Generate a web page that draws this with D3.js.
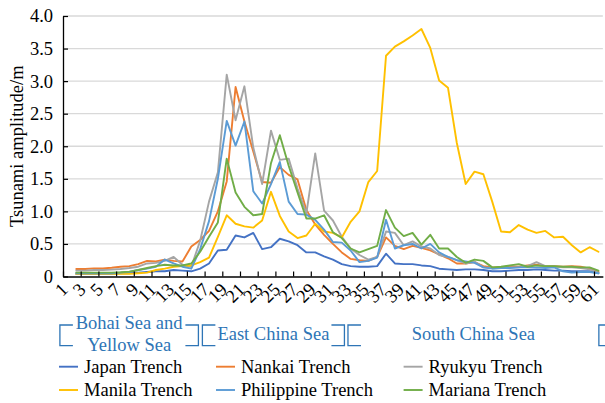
<!DOCTYPE html>
<html>
<head>
<meta charset="utf-8">
<script src="https://cdn.jsdelivr.net/npm/d3@7"></script>
<style>
  html, body { margin: 0; padding: 0; background: #ffffff; }
  svg { display: block; }
  text { font-family: "Liberation Serif", "Times New Roman", serif; }
</style>
</head>
<body>
<svg id="chart" width="605" height="403"></svg>
<script>
// Station numbers along the coast (first station has no record)
const categories = d3.range(1, 62).map(String);

// Maximum tsunami amplitude (m) at each station, one array per source trench
const japanTrench = [null,
  0.04, 0.04, 0.04, 0.04, 0.04, 0.05, 0.05, 0.06, 0.07, 0.08,
  0.08, 0.10, 0.09, 0.08, 0.12, 0.20, 0.40, 0.41, 0.63, 0.60,
  0.67, 0.42, 0.45, 0.58, 0.54, 0.48, 0.37, 0.37, 0.31, 0.26,
  0.19, 0.16, 0.15, 0.15, 0.16, 0.35, 0.20, 0.19, 0.19, 0.17,
  0.16, 0.12, 0.11, 0.10, 0.11, 0.11, 0.10, 0.08, 0.08, 0.09,
  0.10, 0.10, 0.11, 0.10, 0.09, 0.09, 0.08, 0.08, 0.08, 0.05];
const nankaiTrench = [null,
  0.115, 0.115, 0.125, 0.125, 0.135, 0.15, 0.16, 0.19, 0.24, 0.23,
  0.26, 0.24, 0.23, 0.46, 0.56, 0.70, 1.00, 1.46, 2.91, 2.38,
  1.92, 1.45, 1.44, 1.68, 1.56, 1.49, 1.02, 0.80, 0.64, 0.50,
  0.37, 0.27, 0.25, 0.24, 0.30, 0.60, 0.47, 0.42, 0.47, 0.44,
  0.40, 0.34, 0.28, 0.20, 0.20, 0.22, 0.16, 0.14, 0.14, 0.16,
  0.15, 0.17, 0.18, 0.16, 0.16, 0.15, 0.16, 0.15, 0.12, 0.07];
const ryukyuTrench = [null,
  0.09, 0.09, 0.10, 0.10, 0.105, 0.115, 0.13, 0.15, 0.20, 0.21,
  0.24, 0.30, 0.18, 0.15, 0.55, 1.15, 1.60, 3.10, 2.40, 2.92,
  1.98, 1.42, 2.24, 1.79, 1.81, 1.35, 0.97, 1.89, 1.01, 0.86,
  0.61, 0.43, 0.33, 0.26, 0.30, 0.69, 0.67, 0.48, 0.54, 0.46,
  0.43, 0.33, 0.30, 0.25, 0.20, 0.23, 0.14, 0.13, 0.14, 0.14,
  0.14, 0.16, 0.22, 0.16, 0.15, 0.14, 0.14, 0.13, 0.11, 0.06];
const manilaTrench = [null,
  0.04, 0.04, 0.04, 0.04, 0.04, 0.04, 0.04, 0.05, 0.06, 0.10,
  0.12, 0.15, 0.16, 0.17, 0.22, 0.29, 0.61, 0.94, 0.81, 0.77,
  0.75, 0.86, 1.30, 0.93, 0.69, 0.59, 0.63, 0.81, 0.69, 0.67,
  0.60, 0.84, 1.00, 1.45, 1.62, 3.39, 3.53, 3.61, 3.70, 3.80,
  3.51, 3.01, 2.90, 2.05, 1.42, 1.61, 1.57, 1.15, 0.69, 0.68,
  0.79, 0.72, 0.67, 0.70, 0.60, 0.61, 0.48, 0.37, 0.45, 0.38];
const philippineTrench = [null,
  0.05, 0.05, 0.05, 0.05, 0.05, 0.06, 0.07, 0.10, 0.12, 0.15,
  0.26, 0.20, 0.15, 0.12, 0.42, 0.85, 1.50, 2.39, 2.01, 2.38,
  1.31, 1.12, 1.42, 1.76, 1.15, 0.96, 0.95, 0.87, 0.72, 0.53,
  0.52, 0.40, 0.22, 0.24, 0.29, 0.87, 0.43, 0.48, 0.50, 0.43,
  0.50, 0.37, 0.30, 0.25, 0.23, 0.21, 0.14, 0.12, 0.13, 0.13,
  0.14, 0.14, 0.14, 0.13, 0.14, 0.08, 0.06, 0.07, 0.07, 0.05];
const marianaTrench = [null,
  0.06, 0.06, 0.06, 0.06, 0.06, 0.065, 0.075, 0.10, 0.13, 0.16,
  0.18, 0.17, 0.17, 0.20, 0.38, 0.61, 0.83, 1.81, 1.29, 1.07,
  0.94, 0.96, 1.74, 2.17, 1.70, 1.29, 0.89, 0.89, 0.94, 0.68,
  0.59, 0.43, 0.37, 0.42, 0.47, 1.02, 0.75, 0.62, 0.67, 0.49,
  0.64, 0.43, 0.43, 0.30, 0.21, 0.26, 0.24, 0.14, 0.15, 0.17,
  0.19, 0.15, 0.17, 0.16, 0.16, 0.15, 0.15, 0.14, 0.14, 0.09];

const seriesNames = ["Japan Trench", "Nankai Trench", "Ryukyu Trench",
                     "Manila Trench", "Philippine Trench", "Mariana Trench"];
const seriesValues = [japanTrench, nankaiTrench, ryukyuTrench,
                      manilaTrench, philippineTrench, marianaTrench];
const seriesColors = ["#4472C4", "#ED7D31", "#A5A5A5", "#FFC000", "#5B9BD5", "#70AD47"];

const yTicks = [0, 0.5, 1, 1.5, 2, 2.5, 3, 3.5, 4];
const yTickLabels = ["0", "0.5", "1.0", "1.5", "2.0", "2.5", "3.0", "3.5", "4.0"];
const xLabelStep = 2;

// Coastal sea regions spanned by the stations (in station units)
const regionNames = [["Bohai Sea and", "Yellow Sea"], ["East China Sea"], ["South China Sea"], []];
const regionFrom = [0.15, 16.25, 32.7, 61.05];
const regionTo = [15.8, 32.3, 61.05, 63];
const regionClosed = [true, true, false, false];

const axisTitle = "Tsunami amplitude/m";

// ---------------------------------------------------------------
(function draw() {
  const svg = d3.select("#chart");
  const FONT = 18.5;
  const plotLeft = 63, bandW = 8.85;
  const plotRight = plotLeft + bandW * categories.length;
  const plotTop = 16, plotBottom = 276.5;

  const x = d3.scaleBand().domain(categories).range([plotLeft, plotRight]).padding(0);
  const y = d3.scaleLinear().domain([0, 4]).range([plotBottom, plotTop]);
  // station number (fractional) -> pixel, for annotations along the axis
  const stationPos = d3.scaleLinear().domain([0.5, categories.length + 0.5]).range([plotLeft, plotRight]);
  const cx = c => x(c) + x.bandwidth() / 2;

  // horizontal gridlines
  svg.append("g")
    .selectAll("line")
    .data(yTicks.filter(d => d > 0))
    .join("line")
    .attr("x1", plotLeft).attr("x2", plotRight)
    .attr("y1", d => y(d)).attr("y2", d => y(d))
    .attr("stroke", "#d9d9d9").attr("stroke-width", 1.3);

  // series lines
  const line = d3.line()
    .defined(d => d.v !== null)
    .x(d => cx(d.c))
    .y(d => y(d.v));

  svg.append("g")
    .selectAll("path")
    .data(seriesValues.map((vals, i) => ({ i, pts: categories.map((c, j) => ({ c, v: vals[j] })) })))
    .join("path")
    .attr("d", d => line(d.pts))
    .attr("fill", "none")
    .attr("stroke", d => seriesColors[d.i])
    .attr("stroke-width", 1.9)
    .attr("stroke-linejoin", "round")
    .attr("stroke-linecap", "round");

  // y axis
  const yAxis = d3.axisLeft(y)
    .tickValues(yTicks)
    .tickFormat((d, i) => yTickLabels[i])
    .tickSizeInner(-5).tickSizeOuter(0)
    .tickPadding(10);
  const gy = svg.append("g").attr("transform", `translate(${plotLeft},0)`).call(yAxis);
  gy.attr("font-family", null);
  gy.select(".domain").attr("stroke", "#000").attr("stroke-width", 1.3);
  gy.selectAll(".tick line").attr("stroke", "#000").attr("stroke-width", 1.2);
  gy.selectAll(".tick text").attr("font-size", FONT).attr("fill", "#000");

  // x axis: ticks between every second station, labels on odd stations
  const boundaryScale = d3.scaleLinear().domain([0, categories.length]).range([plotLeft, plotRight]);
  const xAxis = d3.axisBottom(boundaryScale)
    .tickValues(d3.range(0, categories.length + 1, xLabelStep))
    .tickFormat("")
    .tickSizeInner(-5).tickSizeOuter(0);
  const gx = svg.append("g").attr("transform", `translate(0,${plotBottom})`).call(xAxis);
  gx.select(".domain").attr("stroke", "#000").attr("stroke-width", 1.3);
  gx.selectAll(".tick line").attr("stroke", "#000").attr("stroke-width", 1.2);

  svg.append("g")
    .selectAll("text")
    .data(categories.filter((c, i) => i % xLabelStep === 0))
    .join("text")
    .attr("transform", c => `translate(${cx(c) - 3},${plotBottom + 9.5}) rotate(-45)`)
    .attr("text-anchor", "end")
    .attr("dy", "0.35em")
    .attr("font-size", FONT)
    .attr("fill", "#000")
    .text(c => c);

  // y axis title
  svg.append("text")
    .attr("transform", `translate(17,${(plotTop + plotBottom) / 2}) rotate(-90)`)
    .attr("text-anchor", "middle")
    .attr("dy", "0.35em")
    .attr("font-size", FONT)
    .attr("fill", "#000")
    .text(axisTitle);

  // sea region brackets below the axis
  const regionColor = "#2E75B6";
  const bTop = 325, bBot = 345.7, arm = 13;
  const gr = svg.append("g");
  regionNames.forEach((names, i) => {
    const x0 = stationPos(regionFrom[i]);
    const x1 = stationPos(regionTo[i]);
    gr.append("path")
      .attr("d", `M${x0 + arm},${bTop}H${x0}V${bBot}H${x0 + arm}`)
      .attr("fill", "none").attr("stroke", regionColor).attr("stroke-width", 1.3);
    if (regionClosed[i]) {
      gr.append("path")
        .attr("d", `M${x1 - arm},${bTop}H${x1}V${bBot}H${x1 - arm}`)
        .attr("fill", "none").attr("stroke", regionColor).attr("stroke-width", 1.3);
    }
    const mid = (x0 + x1) / 2;
    const lineYs = names.length === 2 ? [322.3, 344.3] : [333.3];
    names.forEach((t, k) => {
      gr.append("text")
        .attr("x", mid).attr("y", lineYs[k]).attr("dy", "0.35em")
        .attr("text-anchor", "middle")
        .attr("font-size", FONT)
        .attr("fill", regionColor)
        .text(t);
    });
  });

  // legend: two rows of three
  const legendColX = [59, 216, 403.6];
  const legendRowY = [366.7, 390];
  const lg = svg.append("g")
    .selectAll("g")
    .data(seriesNames)
    .join("g")
    .attr("transform", (d, i) => `translate(${legendColX[i % 3]},${legendRowY[Math.floor(i / 3)]})`);
  lg.append("line")
    .attr("x1", 0).attr("x2", 19).attr("y1", 0).attr("y2", 0)
    .attr("stroke", (d, i) => seriesColors[i]).attr("stroke-width", 1.9);
  lg.append("text")
    .attr("x", 25).attr("dy", "0.35em")
    .attr("font-size", FONT)
    .attr("fill", "#000")
    .text(d => d);
})();
</script>
</body>
</html>
